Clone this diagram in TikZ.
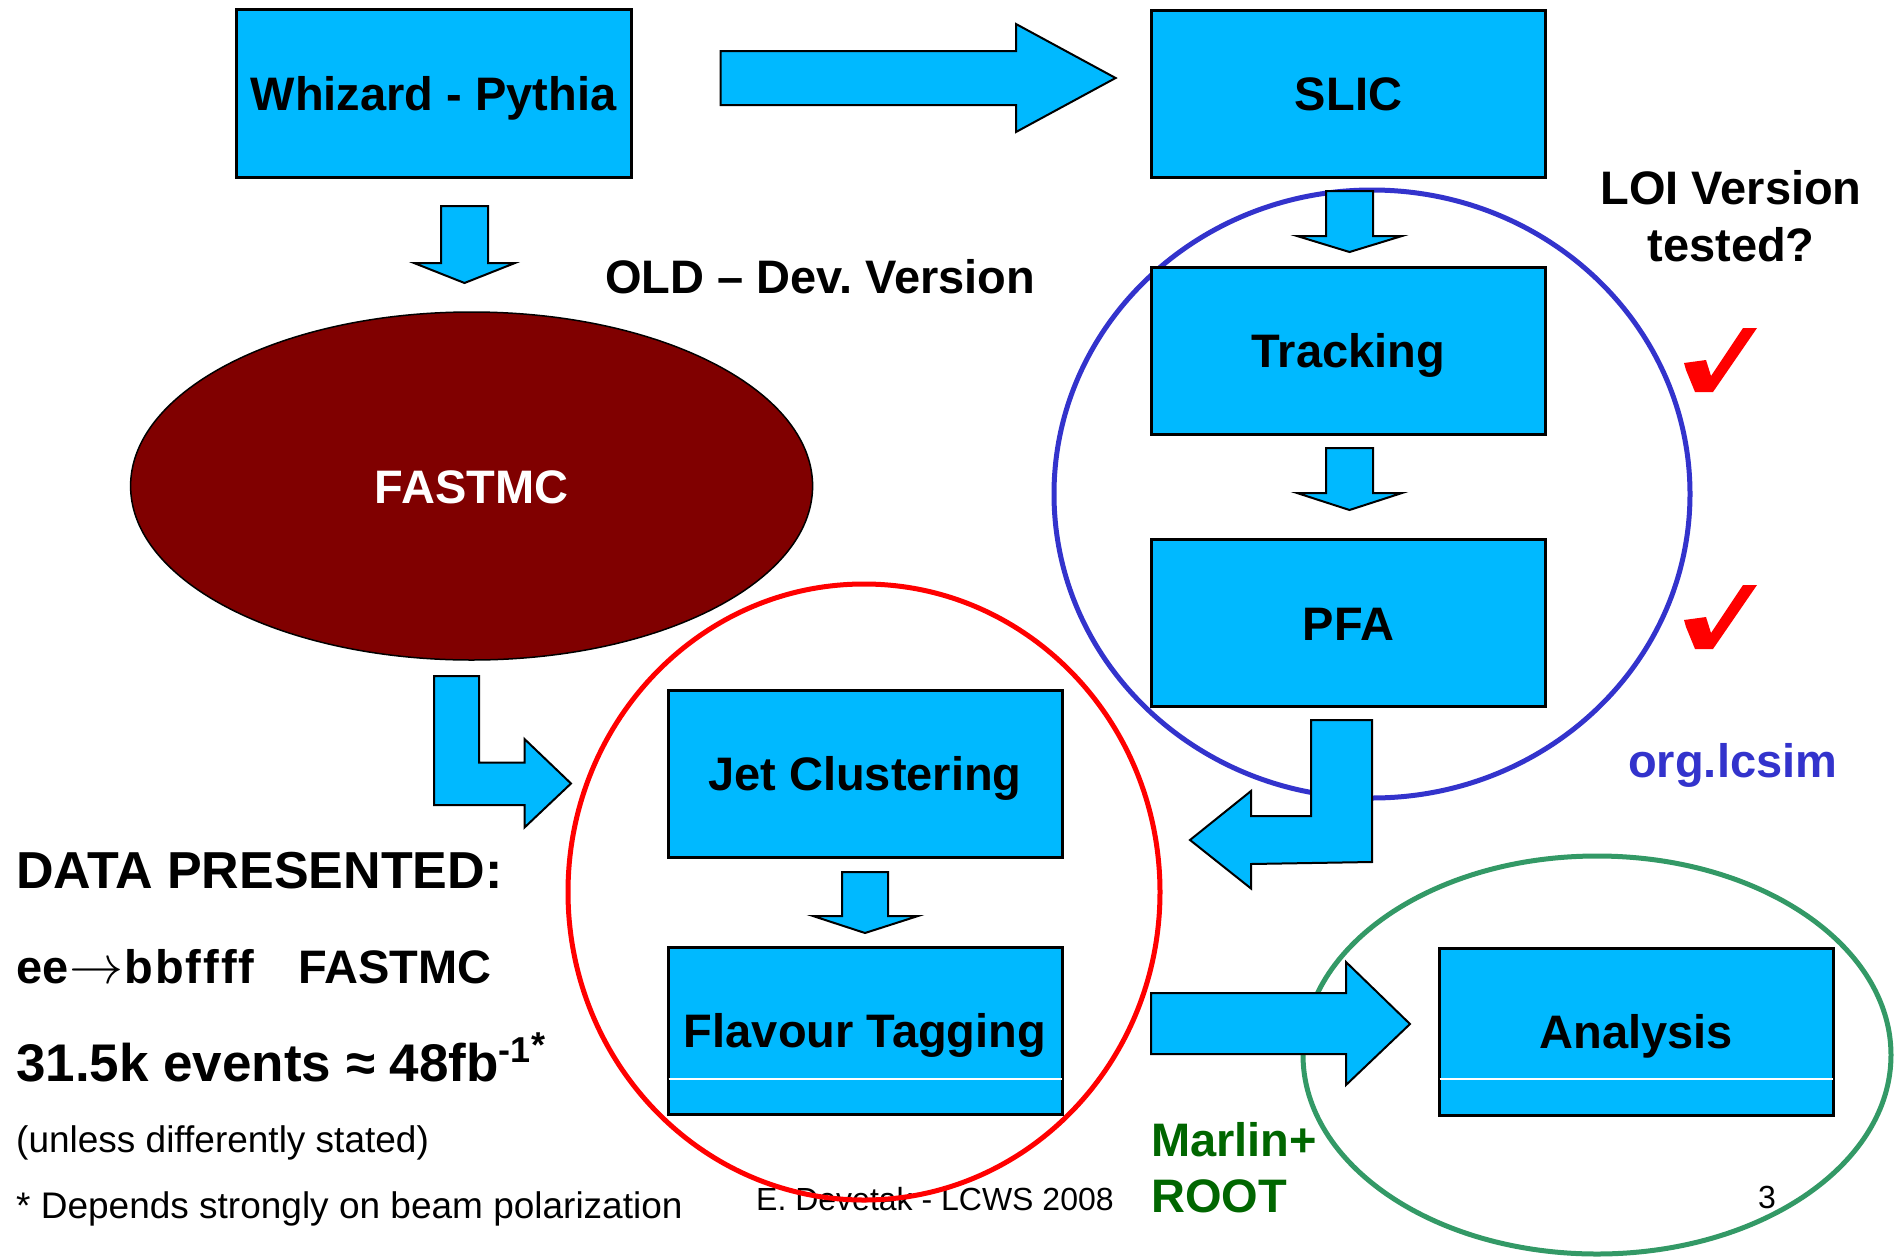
\RequirePackage{fix-cm}
\documentclass[tikz,border=0pt]{standalone}
\usepackage{fontspec}
\setmainfont{Liberation Sans}
\usetikzlibrary{shapes.geometric}
\definecolor{boxblue}{RGB}{0,185,255}
\definecolor{fastred}{RGB}{128,0,0}
\definecolor{lcblue}{RGB}{51,51,204}
\definecolor{marlingreen}{RGB}{0,102,0}
\definecolor{ringgreen}{RGB}{51,153,102}
\newcommand{\fsz}[1]{\fontsize{#1}{#1}\selectfont}
\frenchspacing
\begin{document}
\begin{tikzpicture}[x=1pt,y=-1pt,
  box/.style={draw=black,line width=3pt,fill=boxblue,minimum width=394pt,minimum height=167pt,
    inner sep=0pt,font=\bfseries\fsz{47},text height=34pt,text depth=0pt},
  barrow/.style={draw=black,line width=2pt,fill=boxblue,line join=miter},
  ring/.style={line width=5pt},
  lbl/.style={inner sep=0pt,anchor=base west},
  bigtxt/.style={font=\bfseries\fsz{47}},
  smalltxt/.style={font=\fsz{32}},
  checkmark/.style={fill=red}]
\useasboundingbox (0,0) rectangle (1896,1256);

% ---- left texts
\node[lbl,font=\bfseries\fsz{52}] (data) at (16,888) {DATA PRESENTED:};
\node[lbl,bigtxt] (proc) at (16,983) {ee\kern1pt{\fsz{54}$\rightarrow$}\kern1pt b\kern2pt b\kern2pt f\kern2pt f\kern2pt f\kern2pt f\hspace{44pt}FASTMC};
\node[lbl,font=\bfseries\fsz{53}] (events) at (16,1081) {31.5k events ≈ 48fb{\fsz{36}\raisebox{19pt}{-1}\raisebox{24pt}{*}}};
\node[lbl,font=\fsz{37}] (unless) at (16,1152) {(unless differently stated)};
\node[lbl,font=\fsz{37}] (depends) at (16,1218) {* Depends strongly on beam polarization};
\node[lbl,smalltxt] (author) at (756,1210) {E. Devetak - LCWS 2008};
\node[lbl,smalltxt] (pagenum) at (1758,1208) {3};

% ---- FASTMC ellipse
\node[ellipse,draw=black,line width=1.5pt,fill=fastred,minimum width=682pt,minimum height=348pt,
  inner sep=0pt,text=white,font=\bfseries\fsz{47},text height=34pt,text depth=0pt] (fastmc) at (471.6,486) {FASTMC};

% ---- grouping rings
\draw[ring,draw=lcblue] (1372,494) ellipse [x radius=318pt,y radius=304pt];
\draw[ring,draw=red] (864,892) ellipse [x radius=296pt,y radius=308pt];
\draw[ring,draw=ringgreen] (1597,1055) ellipse [x radius=294pt,y radius=199pt];

% ---- boxes
\node[box,minimum width=395pt,minimum height=168pt] (whiz) at (433.5,93) {Whizard - Pythia};
\node[box] (slic) at (1348.5,93.5) {SLIC};
\node[box] (track) at (1348.5,350.5) {Tracking};
\node[box] (pfa) at (1348.5,623) {PFA};
\node[box] (jet) at (865,773.5) {Jet Clustering};
\node[box] (flav) at (865,1030.5) {Flavour Tagging};
\node[box] (ana) at (1636,1031.5) {Analysis};
\draw[white,line width=1.5pt] ([xshift=2pt]flav.west |- 0,1079) -- ([xshift=-2pt]flav.east |- 0,1079);
\draw[white,line width=1.5pt] ([xshift=2pt]ana.west |- 0,1079) -- ([xshift=-2pt]ana.east |- 0,1079);

% ---- block arrows
% Whizard -> SLIC
\draw[barrow] (720.7,51) -- (1016,51) -- (1016,24) -- (1115.6,78) -- (1016,132) -- (1016,105) -- (720.7,105) -- cycle;
% Whizard -> FASTMC
\draw[barrow] (441,206) -- (488,206) -- (488,263) -- (515,263) -- (464.5,283) -- (414,263) -- (441,263) -- cycle;
% SLIC -> Tracking
\draw[barrow] (1326,191) -- (1373,191) -- (1373,236) -- (1402,236) -- (1349.5,252) -- (1297,236) -- (1326,236) -- cycle;
% Tracking -> PFA
\draw[barrow] (1326,448) -- (1373,448) -- (1373,493) -- (1402,493) -- (1349.5,510) -- (1297,493) -- (1326,493) -- cycle;
% Jet -> Flavour
\draw[barrow] (842,872) -- (888,872) -- (888,916) -- (918,916) -- (865,933) -- (813,916) -- (842,916) -- cycle;
% FASTMC -> Jet (bent)
\draw[barrow] (434,676) -- (479,676) -- (479,762.5) -- (524.5,762.5) -- (524.5,739) -- (571,783.5)
  -- (524.5,827.5) -- (524.5,805) -- (434,805) -- cycle;
% PFA -> Jet (bent)
\draw[barrow] (1311,720) -- (1372,720) -- (1372,862) -- (1251,864) -- (1251,888.5) -- (1190,840)
  -- (1251,791) -- (1251,816) -- (1311,816) -- cycle;
% Flavour -> Analysis
\draw[barrow] (1151,993) -- (1346,993) -- (1346,962) -- (1410,1024) -- (1346,1085) -- (1346,1054) -- (1151,1054) -- cycle;

% ---- annotations
\node[lbl,bigtxt] (old) at (605,293) {OLD – Dev. Version};
\node[inner sep=0pt,anchor=base,bigtxt] (loi1) at (1731,204) {LOI Version};
\node[inner sep=0pt,anchor=base,bigtxt] (loi2) at (1731,261) {tested?};
\node[lbl,bigtxt,text=lcblue] (lcsim) at (1628,777) {org.lcsim};
\node[lbl,bigtxt,text=marlingreen] (marlin) at (1151,1156) {Marlin+};
\node[lbl,bigtxt,text=marlingreen] (root) at (1151,1212) {ROOT};

% ---- check marks
\fill[checkmark] (1684,363) -- (1706,360) -- (1711,376) -- (1743,328) -- (1757,328) -- (1713,392) -- (1695,392) -- (1686,370) -- cycle;
\begin{scope}[shift={(0,257)}]
\fill[checkmark] (1684,363) -- (1706,360) -- (1711,376) -- (1743,328) -- (1757,328) -- (1713,392) -- (1695,392) -- (1686,370) -- cycle;
\end{scope}
\end{tikzpicture}
\end{document}
